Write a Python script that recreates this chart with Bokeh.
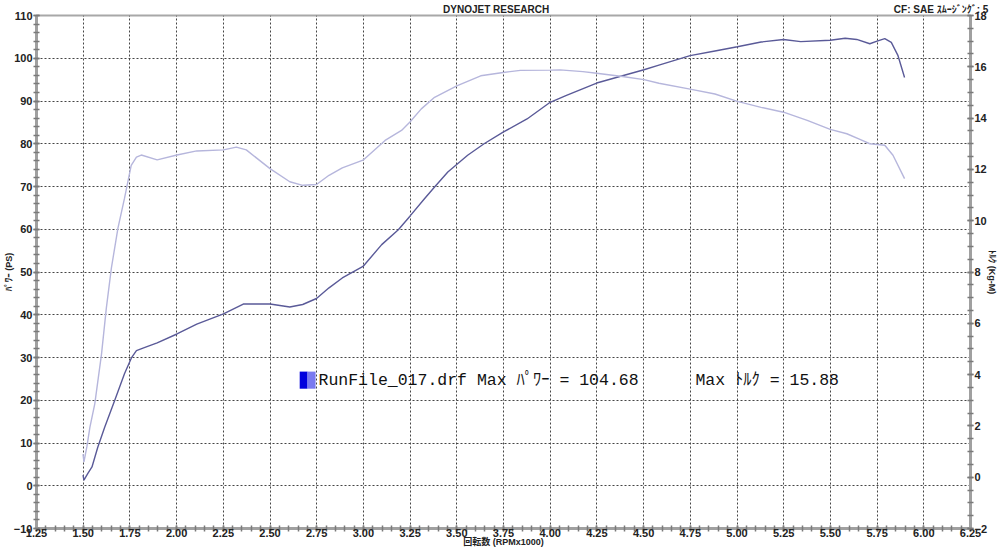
from bokeh.plotting import figure
from bokeh.models import (Range1d, LinearAxis, FixedTicker, Label, BoxAnnotation,
                          PrintfTickFormatter)
from bokeh.embed import file_html
from bokeh.resources import INLINE

# ---------------- data ----------------
power_rpm = [1.499, 1.504, 1.525, 1.547, 1.578, 1.615, 1.668, 1.721, 1.758, 1.785,
             1.827, 1.896, 2.002, 2.108, 2.251, 2.357, 2.500, 2.606, 2.675, 2.749,
             2.816, 2.887, 2.998, 3.098, 3.187, 3.248, 3.328, 3.381, 3.452, 3.558,
             3.646, 3.748, 3.876, 4.000, 4.087, 4.249, 4.387, 4.502, 4.582, 4.749,
             4.882, 5.002, 5.129, 5.249, 5.341, 5.499, 5.579, 5.641, 5.711, 5.750,
             5.791, 5.826, 5.862, 5.897]
power_ps = [2.5, 1.3, 2.9, 4.4, 9.0, 13.7, 19.9, 26.2, 29.9, 31.6,
            32.3, 33.4, 35.5, 37.8, 40.2, 42.5, 42.5, 41.8, 42.4, 43.8,
            46.3, 48.6, 51.3, 56.4, 59.9, 63.0, 67.2, 69.9, 73.4, 77.3,
            80.0, 82.7, 85.8, 89.7, 91.3, 94.2, 95.9, 97.3, 98.4, 100.6,
            101.7, 102.7, 103.8, 104.4, 103.9, 104.2, 104.68, 104.4, 103.4, 104.0,
            104.6, 103.7, 100.6, 95.5]

torque_rpm = [1.499, 1.504, 1.520, 1.536, 1.562, 1.598, 1.624, 1.651, 1.686, 1.721,
              1.757, 1.785, 1.811, 1.896, 2.002, 2.108, 2.251, 2.320, 2.373, 2.500,
              2.606, 2.675, 2.749, 2.816, 2.887, 2.998, 3.116, 3.204, 3.248, 3.310,
              3.381, 3.500, 3.628, 3.748, 3.840, 4.000, 4.052, 4.175, 4.249, 4.387,
              4.502, 4.582, 4.749, 4.882, 5.002, 5.129, 5.249, 5.376, 5.499, 5.588,
              5.658, 5.711, 5.791, 5.835, 5.897]
torque_kgm = [0.9, 0.6, 1.2, 1.95, 2.86, 4.80, 6.60, 8.16, 9.71, 10.87,
              12.16, 12.48, 12.56, 12.37, 12.56, 12.72, 12.76, 12.87, 12.76, 12.03,
              11.52, 11.38, 11.41, 11.77, 12.06, 12.36, 13.13, 13.52, 13.84, 14.36,
              14.81, 15.26, 15.65, 15.78, 15.86, 15.87, 15.88, 15.81, 15.75, 15.62,
              15.50, 15.36, 15.13, 14.94, 14.65, 14.42, 14.23, 13.91, 13.56, 13.39,
              13.17, 13.00, 12.94, 12.55, 11.64]

x_ticks = [1.25 + 0.25 * i for i in range(21)]
x_minor = [1.25 + 0.05 * i for i in range(101)]
ps_ticks = [-10 + 10 * i for i in range(13)]
ps_minor = [-10 + 2 * i for i in range(61)]
kg_ticks = [-2 + 2 * i for i in range(11)]
kg_minor = [-2 + 0.5 * i for i in range(41)]

run_name = "RunFile_017.drf"
header_center = "DYNOJET  RESEARCH"
header_right = "CF: SAE  ｽﾑｰｼﾞﾝｸﾞ: 5"
header_pos = [3.718, 6.10]

# ---------------- layout ----------------
W, H = 1000, 549
BL, BR, BT, BB = 31, 25, 13, 21

FONT = "'Liberation Sans', 'Noto Sans CJK JP', sans-serif"
MONO = "'Liberation Mono', 'Noto Sans CJK JP', monospace"

p = figure(width=W, height=H, x_range=Range1d(1.25, 6.25), y_range=Range1d(-10, 110),
           output_backend="svg", toolbar_location=None,
           min_border_left=BL, min_border_right=BR, min_border_top=BT, min_border_bottom=BB)
p.extra_y_ranges = {"torque": Range1d(-2, 18)}
p.background_fill_color = "white"
p.border_fill_color = "white"
p.outline_line_color = "#a8a8a8"
p.outline_line_width = 2

bottom = p.below[0]
left = p.left[0]

right = LinearAxis(y_range_name="torque")
p.add_layout(right, "right")

top = LinearAxis()
p.add_layout(top, "above")

# grids
p.xgrid.ticker = FixedTicker(ticks=x_ticks[1:-1])
p.ygrid.ticker = FixedTicker(ticks=ps_ticks[1:-1])
for g in (p.xgrid, p.ygrid):
    g.grid_line_color = "#454545"
    g.grid_line_dash = "2 2"
    g.grid_line_width = 1

# header texts carried by a bare top axis
top.ticker = FixedTicker(ticks=header_pos)
top.major_label_overrides = {header_pos[0]: header_center, header_pos[1]: header_right}
top.axis_line_color = None
top.major_tick_line_color = None
top.minor_tick_line_color = None
top.major_tick_out = 0
top.major_tick_in = 0
top.major_label_standoff = 1
top.major_label_text_font = FONT
top.major_label_text_font_style = "bold"
top.major_label_text_font_size = "10px"
top.major_label_text_color = "#222222"

bottom.ticker = FixedTicker(ticks=x_ticks, minor_ticks=x_minor)
bottom.formatter = PrintfTickFormatter(format="%.2f")
left.ticker = FixedTicker(ticks=ps_ticks, minor_ticks=ps_minor)
right.ticker = FixedTicker(ticks=kg_ticks, minor_ticks=kg_minor)

for ax in (bottom, left, right):
    ax.axis_line_color = "#a0a0a0"
    ax.axis_line_width = 3
    ax.major_tick_line_color = "#7a7a7a"
    ax.minor_tick_line_color = "#7a7a7a"
    ax.major_tick_line_width = 1.5
    ax.minor_tick_line_width = 1.5
    ax.major_tick_in = 3
    ax.major_tick_out = 3
    ax.minor_tick_in = 3
    ax.minor_tick_out = 3
    ax.major_label_text_font = FONT
    ax.major_label_text_font_style = "bold"
    ax.major_label_text_font_size = "11px"
    ax.major_label_text_color = "#222222"
    ax.major_label_standoff = 1
    ax.axis_label_text_font = FONT
    ax.axis_label_text_font_style = "bold"
    ax.axis_label_text_font_size = "9px"
    ax.axis_label_text_color = "#222222"
    ax.axis_label_standoff = -3

bottom.major_label_standoff = -3
left.axis_label = "ﾊﾟﾜｰ (PS)"
right.axis_label = "ﾄﾙｸ (Kg-M)"
bottom.axis_label = "回転数 (RPMx1000)"

# curves
p.line(power_rpm, power_ps, line_color="#5a5a98", line_width=1.4)
p.line(torque_rpm, torque_kgm, y_range_name="torque", line_color="#b6b6dc", line_width=1.4)

# caption with swatch
p.add_layout(BoxAnnotation(left=2.659, right=2.701, bottom=22.7, top=26.7,
                           fill_color="#0000dd", fill_alpha=1.0, line_color=None))
p.add_layout(BoxAnnotation(left=2.701, right=2.744, bottom=22.7, top=26.7,
                           fill_color="#7a7af0", fill_alpha=1.0, line_color=None))
p.add_layout(Label(x=2.7595, y=24.6, text=f"{run_name} Max ﾊﾟﾜｰ = {max(power_ps):.2f}",
                   text_font=MONO, text_font_size="16.5px", text_color="#111111",
                   text_baseline="middle"))
p.add_layout(Label(x=4.7775, y=24.6, text=f"Max ﾄﾙｸ = {max(torque_kgm):.2f}",
                   text_font=MONO, text_font_size="16.5px", text_color="#111111",
                   text_baseline="middle"))

open("out.html", "w").write(file_html(p, INLINE))
